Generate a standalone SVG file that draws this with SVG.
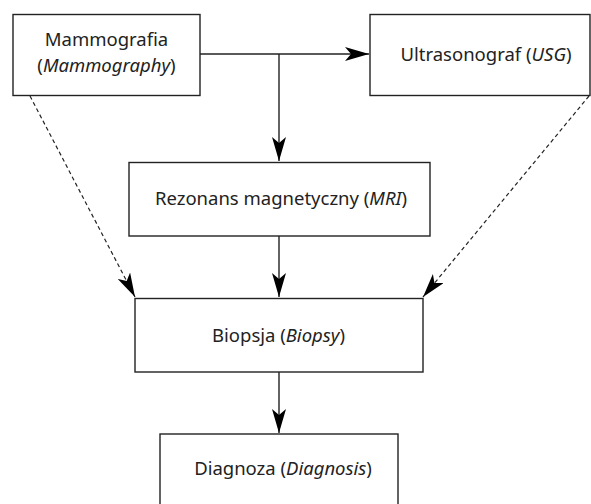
<svg xmlns="http://www.w3.org/2000/svg" width="591" height="504" viewBox="0 0 591 504">
  <style>
    .box { fill: #ffffff; stroke: #222222; stroke-width: 1.4; }
    .lbl { font-family: "Noto Sans", "Open Sans", sans-serif; font-size: 18.5px; fill: #222222; text-anchor: middle; }
    .it { font-style: italic; }
    .solid { fill: none; stroke: #222222; stroke-width: 1.4; }
    .dash { fill: none; stroke: #222222; stroke-width: 1.2; stroke-dasharray: 4 3; }
  </style>
  <defs>
    <marker id="ah" viewBox="0 0 24 14" refX="24" refY="7" markerWidth="24" markerHeight="14" markerUnits="userSpaceOnUse" orient="auto">
      <path d="M0,0 L24,7 L0,14 L6,7 Z" fill="#000000"/>
    </marker>
  </defs>
  <rect width="591" height="504" fill="#ffffff"/>
  <g id="connectors">
    <path class="solid" d="M200,54 H369" marker-end="url(#ah)"/>
    <path class="solid" d="M279,54 V161" marker-end="url(#ah)"/>
    <path class="solid" d="M279,236 V297" marker-end="url(#ah)"/>
    <path class="solid" d="M279,372 V433" marker-end="url(#ah)"/>
    <path class="dash" d="M30,96 L135,297" marker-end="url(#ah)"/>
    <path class="dash" d="M589,96 L423,297" marker-end="url(#ah)"/>
  </g>
  <g id="mammografia">
    <rect class="box" x="13" y="14.5" width="187" height="81"/>
    <text class="lbl" x="106.5" y="46">Mammografia</text>
    <text class="lbl" x="106.5" y="71.5">(<tspan class="it">Mammography</tspan>)</text>
  </g>
  <g id="usg">
    <rect class="box" x="370" y="14.5" width="220" height="81"/>
    <text class="lbl" x="486" y="61">Ultrasonograf (<tspan class="it">USG</tspan>)</text>
  </g>
  <g id="mri">
    <rect class="box" x="129" y="162.5" width="301" height="73.5"/>
    <text class="lbl" x="281" y="205">Rezonans magnetyczny (<tspan class="it">MRI</tspan>)</text>
  </g>
  <g id="biopsja">
    <rect class="box" x="135" y="298.5" width="288" height="73.5"/>
    <text class="lbl" x="278.5" y="341.5">Biopsja (<tspan class="it">Biopsy</tspan>)</text>
  </g>
  <g id="diagnoza">
    <rect class="box" x="160" y="434" width="238" height="80"/>
    <text class="lbl" x="283" y="475">Diagnoza (<tspan class="it">Diagnosis</tspan>)</text>
  </g>
</svg>
